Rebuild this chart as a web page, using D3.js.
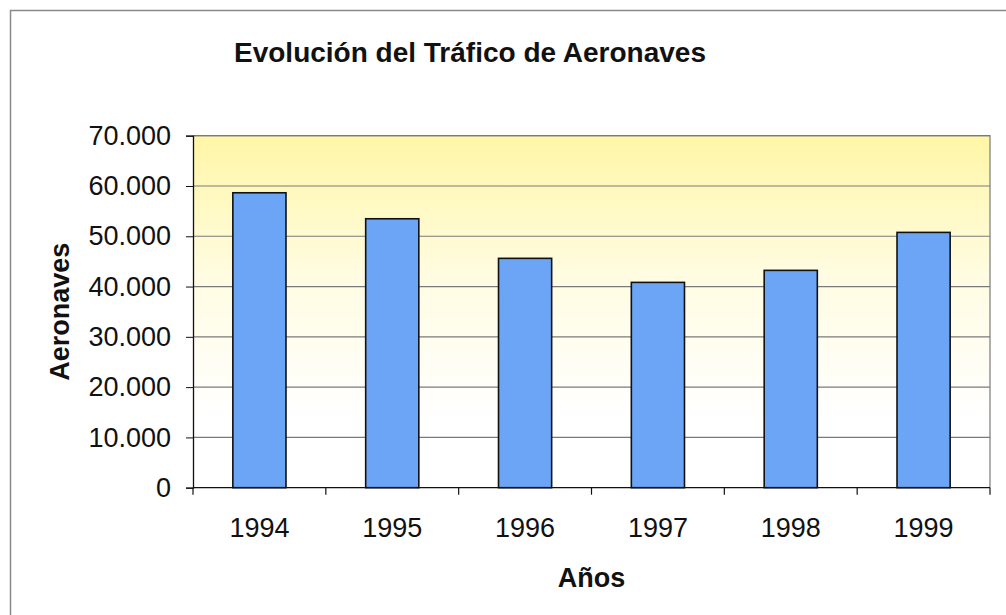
<!DOCTYPE html>
<html><head><meta charset="utf-8">
<script src="https://cdn.jsdelivr.net/npm/d3@7"></script>
<style>
html,body{margin:0;padding:0;background:#fff;}
svg{display:block;font-family:"Liberation Sans",Arial,sans-serif;}
</style></head>
<body>
<svg id="c" width="1006" height="615"></svg>
<script>
const years = ["1994","1995","1996","1997","1998","1999"];
const aircraft = [58650, 53480, 45610, 40830, 43220, 50770];
const yTicks = [0,10000,20000,30000,40000,50000,60000,70000];
const titleText = "Evolución del Tráfico de Aeronaves";
const xTitle = "Años";
const yTitle = "Aeronaves";

const svg = d3.select("#c");
const L = 193, R = 990, T = 135.7, B = 487.7;

const locale = d3.formatLocale({decimal:",", thousands:".", grouping:[3], currency:["","€"]});
const fmt = locale.format(",d");

const x = d3.scaleBand().domain(years).range([L,R]).paddingInner(0.6).paddingOuter(0.3);
const y = d3.scaleLinear().domain([0,70000]).range([B,T]);

// outer chart border (clipped by window)
svg.append("rect").attr("x",10.5).attr("y",10.5).attr("width",1200).attr("height",800)
  .attr("fill","none").attr("stroke","#8a8a8a").attr("stroke-width",1.5);

const defs = svg.append("defs");
const g = defs.append("linearGradient").attr("id","bg").attr("x1",0).attr("y1",0).attr("x2",0).attr("y2",1);
g.append("stop").attr("offset","0%").attr("stop-color","#FFF6A6");
g.append("stop").attr("offset","40%").attr("stop-color","#FFFCE2");
g.append("stop").attr("offset","80%").attr("stop-color","#FFFFFF");
g.append("stop").attr("offset","100%").attr("stop-color","#FFFFFF");

svg.append("rect").attr("x",L).attr("y",T).attr("width",R-L).attr("height",B-T).attr("fill","url(#bg)");

// gridlines
svg.append("g").selectAll("line").data(yTicks.filter(d=>d>0)).join("line")
  .attr("x1",L).attr("x2",R).attr("y1",d=>y(d)).attr("y2",d=>y(d))
  .attr("stroke","#7a7a7a").attr("stroke-width",1.2);

// plot border top/right
svg.append("path").attr("d",`M${L},${T}H${R}V${B}`).attr("fill","none").attr("stroke","#7a7a7a").attr("stroke-width",1.2);

// bars
svg.append("g").selectAll("rect").data(years).join("rect")
  .attr("x",d=>x(d)).attr("width",x.bandwidth())
  .attr("y",(d,i)=>y(aircraft[i])).attr("height",(d,i)=>B-y(aircraft[i]))
  .attr("fill","#6CA5F5").attr("stroke","#111").attr("stroke-width",1.6);

// y axis
const ya = svg.append("g").attr("transform",`translate(${L},0)`)
  .call(d3.axisLeft(y).tickValues(yTicks).tickFormat(fmt).tickSize(7).tickPadding(15));
ya.select(".domain").attr("stroke","#111").attr("stroke-width",1.3);
ya.selectAll(".tick line").attr("stroke","#111");
ya.selectAll("text").attr("font-size",27).attr("fill","#111").attr("font-family","Liberation Sans, Arial, sans-serif");

// x axis
const xa = svg.append("g").attr("transform",`translate(0,${B})`)
  .call(d3.axisBottom(x).tickSize(0).tickPadding(30));
xa.select(".domain").attr("d",`M${L},0H${R}`).attr("stroke","#111").attr("stroke-width",1.3);
xa.selectAll("text").attr("font-size",27).attr("fill","#111").attr("font-family","Liberation Sans, Arial, sans-serif");

// category boundary ticks
const step = x.step();
const bounds = [L].concat(years.map(d=>x(d)+x.bandwidth()+step*x.paddingInner()/2));
svg.append("g").selectAll("line").data(bounds).join("line")
  .attr("x1",d=>d).attr("x2",d=>d).attr("y1",B).attr("y2",B+7)
  .attr("stroke","#111").attr("stroke-width",1.2);

// titles
svg.append("text").attr("x",470).attr("y",62).attr("text-anchor","middle")
  .attr("font-size",28).attr("font-weight","bold").attr("fill","#111").text(titleText);
svg.append("text").attr("x",(L+R)/2).attr("y",587).attr("text-anchor","middle")
  .attr("font-size",27).attr("font-weight","bold").attr("fill","#111").text(xTitle);
svg.append("text").attr("transform",`translate(69,${(T+B)/2}) rotate(-90)`).attr("text-anchor","middle")
  .attr("font-size",27).attr("font-weight","bold").attr("fill","#111").text(yTitle);
</script>
</body></html>
